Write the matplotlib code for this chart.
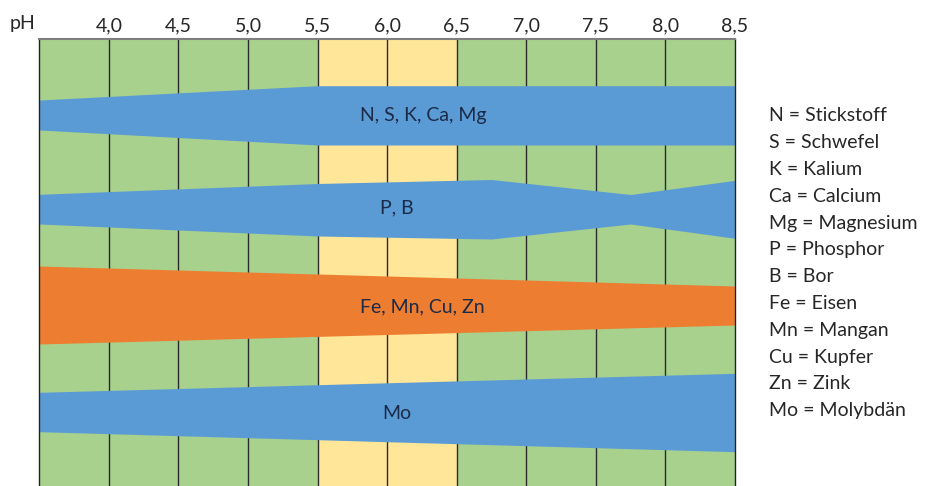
import matplotlib
matplotlib.use("Agg")
import matplotlib.pyplot as plt
import matplotlib.transforms as mtransforms

plt.rcParams['font.family'] = ['Lato', 'DejaVu Sans']

# pH-Skala (Spaltengrenzen) und Beschriftung
ph_edges = [3.5, 4.0, 4.5, 5.0, 5.5, 6.0, 6.5, 7.0, 7.5, 8.0, 8.5]
ph_labels = ['4,0', '4,5', '5,0', '5,5', '6,0', '6,5', '7,0', '7,5', '8,0', '8,5']
optimum = [5.5, 6.5]

# Baender: pH-Stuetzstellen, Oberkante, Unterkante (y in Pixel ab Oberkante des Rasters)
nsk_ph = [3.5, 5.5, 8.5]
nsk_top = [60.5, 46.2, 46.2]
nsk_bot = [90.5, 105.5, 105.5]

pb_ph = [3.5, 5.5, 6.75, 7.75, 8.5]
pb_top = [154.8, 144.0, 140.0, 155.0, 140.8]
pb_bot = [184.5, 196.5, 199.5, 184.5, 198.8]

fe_ph = [3.5, 8.5]
fe_top = [226.5, 246.5]
fe_bot = [304.5, 285.5]

mo_ph = [3.5, 8.5]
mo_top = [352.8, 333.8]
mo_bot = [392.2, 412.2]

band_names = ['N, S, K, Ca, Mg', 'P, B', 'Fe, Mn, Cu, Zn', 'Mo']
band_text_x = [6.26, 6.07, 6.25, 6.07]
band_text_y = [75.5, 168.5, 267.2, 373.8]

legend_lines = ['N = Stickstoff', 'S = Schwefel', 'K = Kalium', 'Ca = Calcium',
                'Mg = Magnesium', 'P = Phosphor', 'B = Bor', 'Fe = Eisen',
                'Mn = Mangan', 'Cu = Kupfer', 'Zn = Zink', 'Mo = Molybdän']

green = '#A9D18E'
yellow = '#FFE699'
blue = '#5B9BD5'
orange = '#ED7D31'
navy = '#1B2A47'
fs = 14

fig = plt.figure(figsize=(9.28, 4.86), dpi=100)
ax = fig.add_axes([39.3/928, 0, (735-39.3)/928, 1 - 39.5/486])

# Hintergrund-Spalten
for i in range(len(ph_edges) - 1):
    a, b = ph_edges[i], ph_edges[i+1]
    col = yellow if (a >= optimum[0] and b <= optimum[1]) else green
    ax.axvspan(a, b, color=col, lw=0, zorder=0)
for x in ph_edges[1:-1]:
    ax.axvline(x, color='#2b2b2b', lw=1.0, zorder=1)

# Baender
ax.fill_between(nsk_ph, nsk_top, nsk_bot, color=blue, lw=0, zorder=2)
ax.fill_between(pb_ph, pb_top, pb_bot, color=blue, lw=0, zorder=2)
ax.fill_between(fe_ph, fe_top, fe_bot, color=orange, lw=0, zorder=2)
ax.fill_between(mo_ph, mo_top, mo_bot, color=blue, lw=0, zorder=2)

for name, x, y in zip(band_names, band_text_x, band_text_y):
    ax.text(x, y, name, ha='center', va='center', fontsize=fs, color=navy, zorder=3)

ax.set_xlim(3.5, 8.5)
ax.set_ylim(446.5, 0)
ax.set_yticks([])
ax.xaxis.tick_top()
ax.set_xticks(ph_edges[1:], ph_labels, fontsize=fs, color='#262626')
ax.tick_params(axis='x', length=0, pad=4)

for s in ['left', 'right']:
    ax.spines[s].set_color('#222222')
    ax.spines[s].set_linewidth(1.0)
ax.spines['top'].set_color('#7f7f7f')
ax.spines['top'].set_linewidth(1.5)
ax.spines['bottom'].set_visible(False)

trans = mtransforms.blended_transform_factory(ax.transData, ax.transAxes)
ax.text(3.38, 1 + 10/446.5, 'pH', ha='center', va='baseline', fontsize=fs,
        color='#262626', transform=trans)

# Legende rechts
for i, line in enumerate(legend_lines):
    y = 1 - (121.3 + i*26.8)/486
    fig.text(768.7/928, y, line, ha='left', va='baseline', fontsize=fs, color='#262626')

fig.savefig('out.png', dpi=100)
